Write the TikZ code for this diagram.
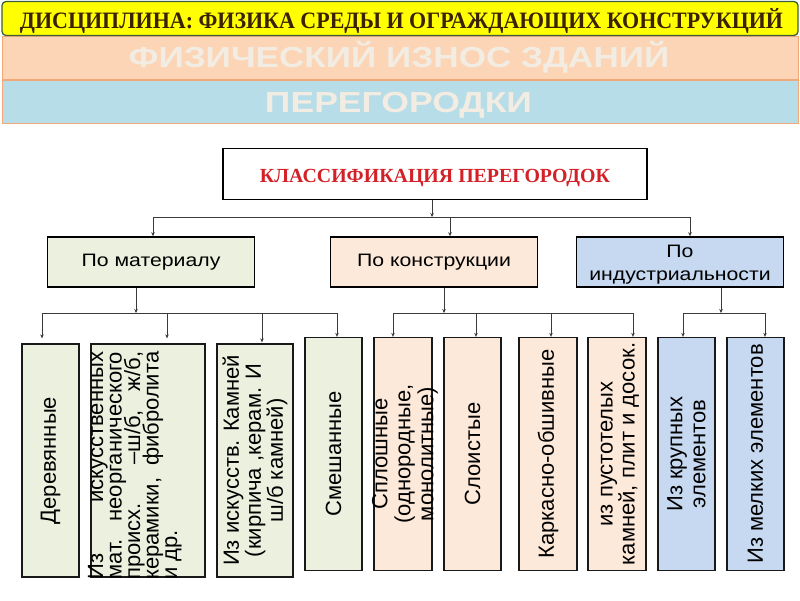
\documentclass[tikz,border=0pt]{standalone}
\usepackage{fontspec}
\setmainfont{Liberation Sans}
\newfontfamily\serf{Liberation Serif}
\usetikzlibrary{arrows.meta}
\definecolor{gmat}{HTML}{EBF1DE}
\definecolor{pkon}{HTML}{FDE9D9}
\definecolor{bind}{HTML}{C6D9F1}
\definecolor{yel}{HTML}{FFFF00}
\definecolor{yelb}{HTML}{3A5E3C}
\definecolor{peach}{HTML}{FBD5B6}
\definecolor{lblue}{HTML}{B7DDE8}
\definecolor{orl}{HTML}{F2A97A}
\definecolor{htxt}{HTML}{F2ECE2}
\definecolor{brn}{HTML}{3A2200}
\definecolor{redt}{HTML}{D42027}
\definecolor{lnc}{HTML}{3A3A3A}
\newcommand{\hs}[1]{\scalebox{1.18}[1]{#1}}
\begin{document}
\begin{tikzpicture}[x=1pt,y=-1pt,
  bar/.style={inner sep=0pt, minimum width=796pt, minimum height=43pt},
  lvl/.style={draw=black, line width=1.6pt, inner sep=0pt, minimum width=207pt, minimum height=50pt},
  leaf/.style={draw=black!90, line width=1.3pt, inner sep=0pt, minimum height=233pt},
  rtxt/.style={rotate=90, inner sep=0pt, align=center, font=\fontsize{22}{22}\selectfont},
  ltxt/.style={inner sep=0pt, align=center, font=\fontsize{18}{23}\selectfont},
  ln/.style={draw=lnc, line width=0.6pt},
  arr/.style={ln, -{Stealth[length=4pt,width=3.5pt]}}]
\useasboundingbox (0,0) rectangle (800,600);
\fill[white] (0,0) rectangle (800,600);
% header bars
\node[bar, fill=lblue, draw=orl, line width=1pt] (bar3) at (400,101.5) {};
\node[bar, fill=peach, draw=orl, line width=1pt] (bar2) at (400,57.5) {};
\node[bar, minimum height=34pt, fill=yel, draw=yelb, line width=1.3pt, rounded corners=4pt] (bar1) at (400,18.5) {};
\node[inner sep=0pt, anchor=base, text=brn] (t1) at (401.5,28)
  {\resizebox{763pt}{\height}{\serf\bfseries\fontsize{23.5}{23.5}\selectfont ДИСЦИПЛИНА: ФИЗИКА СРЕДЫ И ОГРАЖДАЮЩИХ КОНСТРУКЦИЙ}};
\node[inner sep=0pt, anchor=base, text=htxt] (t2h) at (399,67)
  {\resizebox{541pt}{\height}{\bfseries\fontsize{29}{29}\selectfont ФИЗИЧЕСКИЙ ИЗНОС ЗДАНИЙ}};
\node[inner sep=0pt, anchor=base, text=htxt] (t3h) at (398.5,112)
  {\resizebox{267pt}{\height}{\bfseries\fontsize{29}{29}\selectfont ПЕРЕГОРОДКИ}};
% classification
\node[draw=black, line width=1.8pt, inner sep=0pt, minimum width=424pt, minimum height=51pt] (cls) at (435,174) {};
\node[inner sep=0pt, anchor=base, text=redt] (clst) at (435,182)
  {\resizebox{350pt}{\height}{\serf\bfseries\fontsize{20}{20}\selectfont КЛАССИФИКАЦИЯ ПЕРЕГОРОДОК}};
% level 2
\node[lvl, fill=gmat] (m) at (151,262) {};
\node[ltxt] (mt) at (m.center) {\hs{По материалу}};
\node[lvl, fill=pkon] (k) at (434,262) {};
\node[ltxt] (kt) at (k.center) {\hs{По конструкции}};
\node[lvl, fill=bind] (i) at (680,262) {};
\node[ltxt] (it) at ([yshift=-3pt]i.center) {\hs{По}\\\hs{индустриальности}};
% leaves
\node[leaf, fill=gmat, minimum width=57pt] (b1) at (50.5,460.5) {};
\node[leaf, fill=gmat, minimum width=114pt] (b2) at (148,460.5) {};
\node[leaf, fill=gmat, minimum width=76pt] (b3) at (255,460.5) {};
\node[leaf, fill=gmat, minimum width=57pt] (b4) at (333.5,454) {};
\node[leaf, fill=pkon, minimum width=58pt] (b5) at (403,454) {};
\node[leaf, fill=pkon, minimum width=57pt] (b6) at (472.5,454) {};
\node[leaf, fill=pkon, minimum width=58pt] (b7) at (548,454) {};
\node[leaf, fill=pkon, minimum width=58pt] (b8) at (617,454) {};
\node[leaf, fill=bind, minimum width=57pt] (b9) at (686.5,454) {};
\node[leaf, fill=bind, minimum width=57pt] (b10) at (755.5,454) {};
% leaf texts
\node[rtxt] (l1) at (b1.center) {Деревянные};
\node[rotate=90, inner sep=0pt, anchor=base west] (l2) at (103,580)
  {\parbox[t]{228pt}{\fontsize{22}{18.5}\selectfont\lineskiplimit=-50pt\lineskip=0pt\relax
   \makebox[\linewidth][s]{Из искусственных}\\
   \makebox[\linewidth][s]{мат. неорганического}\\
   \makebox[\linewidth][s]{происх. –ш/б, ж/б,}\\
   \makebox[\linewidth][s]{керамики, фибролита}\\
   и др.}};
\node[rtxt] (l3) at (b3.center) {Из искусств. Камней\\(кирпича ,керам. И\\ш/б камней)};
\node[rtxt] (l4) at (b4.center) {Смешанные};
\node[rtxt, font=\fontsize{22}{23}\selectfont] (l5) at ([xshift=2pt]b5.center) {Сплошные\\(однородные,\\монолитные)};
\node[rtxt] (l6) at (b6.center) {Слоистые};
\node[rtxt] (l7) at (b7.center) {Каркасно-обшивные};
\node[rtxt] (l8) at ([xshift=3pt]b8.center) {из пустотелых\\камней, плит и досок.};
\node[rtxt, font=\fontsize{22}{23}\selectfont] (l9) at (b9.center) {Из крупных\\элементов};
\node[rtxt] (l10) at (b10.center) {Из мелких элементов};
% connectors top
\coordinate (j0) at (432,217);
\coordinate (h0l) at (153,217);
\coordinate (h0m) at (450,217);
\coordinate (h0r) at (690,217);
\draw[ln] (h0l) -- (h0r);
\draw[arr] (cls.south -| j0) -- (j0);
\draw[arr] (h0l) -- (h0l |- m.north);
\draw[arr] (h0m) -- (h0m |- k.north);
\draw[arr] (h0r) -- (h0r |- i.north);
% material group
\coordinate (jm) at (136,313);
\coordinate (hm1) at (42,313);
\coordinate (hm2) at (167,313);
\coordinate (hm3) at (262,313);
\coordinate (hm4) at (337,313);
\draw[ln] (hm1) -- (hm4);
\draw[arr] (m.south -| jm) -- (jm);
\draw[arr, shorten >=5pt] (hm1) -- (hm1 |- b1.north);
\draw[arr, shorten >=5pt] (hm2) -- (hm2 |- b2.north);
\draw[arr, shorten >=1pt] (hm3) -- (hm3 |- b3.north);
\draw[arr] (hm4) -- (hm4 |- b4.north);
% construction group
\coordinate (jk) at (444,313);
\coordinate (hk1) at (393,313);
\coordinate (hk2) at (476,313);
\coordinate (hk3) at (551,313);
\coordinate (hk4) at (633,313);
\draw[ln] (hk1) -- (hk4);
\draw[arr] (k.south -| jk) -- (jk);
\draw[arr] (hk1) -- (hk1 |- b5.north);
\draw[arr] (hk2) -- (hk2 |- b6.north);
\draw[arr] (hk3) -- (hk3 |- b7.north);
\draw[arr] (hk4) -- (hk4 |- b8.north);
% industrial group
\coordinate (ji) at (721,313);
\coordinate (hi1) at (683,313);
\coordinate (hi2) at (765,313);
\draw[ln] (hi1) -- (hi2);
\draw[arr] (i.south -| ji) -- (ji);
\draw[arr] (hi1) -- (hi1 |- b9.north);
\draw[arr] (hi2) -- (hi2 |- b10.north);
\end{tikzpicture}
\end{document}
